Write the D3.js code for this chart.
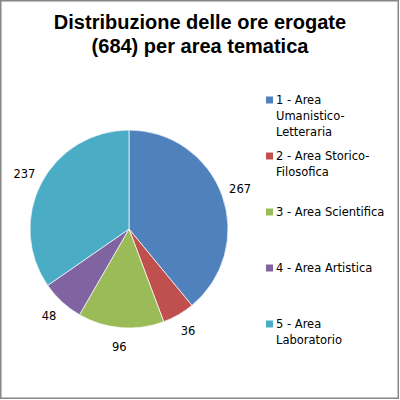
<!DOCTYPE html>
<html>
<head>
<meta charset="utf-8">
<script src="https://cdn.jsdelivr.net/npm/d3@7.9.0/dist/d3.min.js"></script>
<style>
  body { margin: 0; background: #fff; }
  svg text { font-family: "DejaVu Sans", sans-serif; }
  svg text.title { font-family: "Liberation Sans", sans-serif; }
</style>
</head>
<body>
<svg id="chart" width="400" height="400"></svg>
<script>
const categories = [
  ['1 - Area', 'Umanistico-', 'Letteraria'],
  ['2 - Area Storico-', 'Filosofica'],
  ['3 - Area Scientifica'],
  ['4 - Area Artistica'],
  ['5 - Area', 'Laboratorio']
];
const hours = [267, 36, 96, 48, 237];
const colors = ['#4F81BD', '#C0504D', '#9BBB59', '#8064A2', '#4BACC6'];
const titleLines = ['Distribuzione delle ore erogate', '(684) per area tematica'];
const legendY = [100, 156, 212, 268, 324];

const svg = d3.select('#chart');

svg.append('rect')
  .attr('x', 0.75).attr('y', 0.75)
  .attr('width', 397.5).attr('height', 397.5)
  .attr('fill', '#fff')
  .attr('stroke', '#868686')
  .attr('stroke-width', 1.5);

// title
svg.append('g').selectAll('text')
  .data(titleLines)
  .join('text')
  .attr('class', 'title')
  .attr('x', 200)
  .attr('y', (d, i) => 29 + i * 24)
  .attr('text-anchor', 'middle')
  .attr('font-size', 20)
  .attr('font-weight', 'bold')
  .attr('fill', '#000')
  .text(d => d);

// pie
const cx = 129, cy = 229, r = 99;
const pie = d3.pie().sort(null).value(d => d);
const arc = d3.arc().innerRadius(0).outerRadius(r);
const labelArc = d3.arc().innerRadius(118).outerRadius(118);
const arcs = pie(hours);

const g = svg.append('g').attr('transform', `translate(${cx},${cy})`);
g.selectAll('path')
  .data(arcs)
  .join('path')
  .attr('d', arc)
  .attr('fill', (d, i) => colors[i])
  .attr('stroke', '#fff')
  .attr('stroke-width', 0.7);

g.selectAll('text')
  .data(arcs)
  .join('text')
  .attr('transform', d => `translate(${labelArc.centroid(d)})`)
  .attr('text-anchor', 'middle')
  .attr('dy', '0.35em')
  .attr('font-size', 11.5)
  .attr('fill', '#000')
  .text(d => d.data);

// legend
const legend = svg.append('g');
categories.forEach((lines, i) => {
  legend.append('rect')
    .attr('x', 266).attr('y', legendY[i] - 3.5)
    .attr('width', 7).attr('height', 7)
    .attr('fill', colors[i]);
  legend.append('g').selectAll('text')
    .data(lines)
    .join('text')
    .attr('x', 276)
    .attr('y', (d, j) => legendY[i] + j * 16)
    .attr('dy', '0.35em')
    .attr('font-size', 11.5)
    .attr('fill', '#000')
    .text(d => d);
});
</script>
</body>
</html>
